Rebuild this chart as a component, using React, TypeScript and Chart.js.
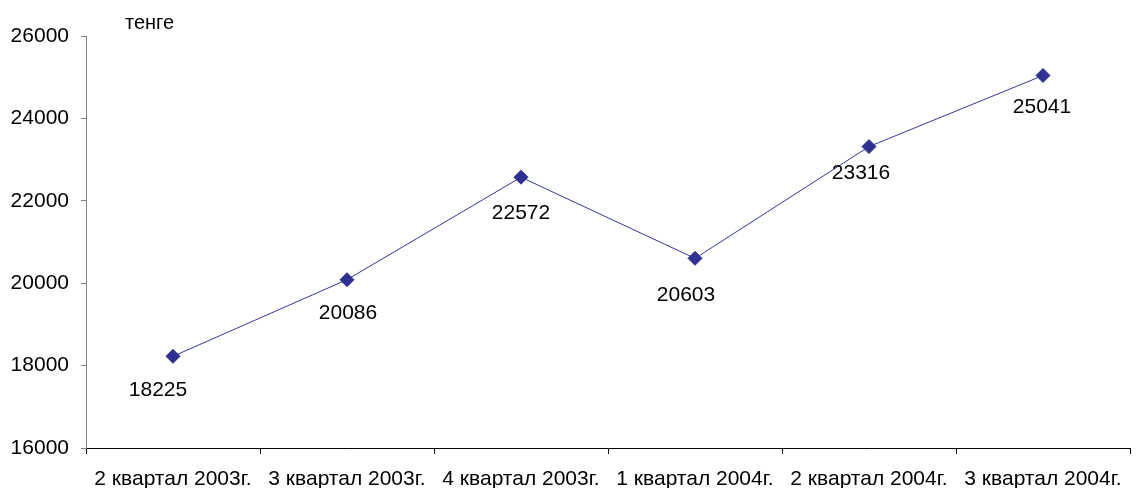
import React, { useEffect, useRef } from "react";
import { Chart, registerables } from "chart.js";

Chart.register(...registerables);

const categories = [
  "2 квартал 2003г.",
  "3 квартал 2003г.",
  "4 квартал 2003г.",
  "1 квартал 2004г.",
  "2 квартал 2004г.",
  "3 квартал 2004г.",
];
const values = [18225, 20086, 22572, 20603, 23316, 25041];
const unitLabel = "тенге";
const yMin = 16000;
const yMax = 26000;
const yStep = 2000;

// label placement nudges (dx, dy from point), styling only
const labelNudgeX = [-15, 1, 0, -9, -8, -1];
const labelNudgeY = [34, 34, 36, 37, 27, 32];

const FONT = "Liberation Sans, Arial, sans-serif";
const FS = 21;

const labelPlugin = {
  id: "pointLabels",
  afterDatasetsDraw(chart: any) {
    const ctx = chart.ctx;
    const meta = chart.getDatasetMeta(0);
    ctx.save();
    ctx.font = `${FS}px ${FONT}`;
    ctx.fillStyle = "#000";
    ctx.textAlign = "center";
    ctx.textBaseline = "middle";
    meta.data.forEach((pt: any, i: number) => {
      ctx.fillText(String(values[i]), pt.x + labelNudgeX[i], pt.y + labelNudgeY[i]);
    });
    ctx.font = `20px ${FONT}`;
    ctx.textAlign = "left";
    ctx.textBaseline = "alphabetic";
    ctx.fillText(unitLabel, chart.chartArea.left + 39, 29);
    ctx.restore();
  },
};

export default function App() {
  const ref = useRef<HTMLCanvasElement | null>(null);
  useEffect(() => {
    document.body.style.margin = "0";
    const chart = new Chart(ref.current as HTMLCanvasElement, {
      type: "line",
      data: {
        labels: categories,
        datasets: [
          {
            data: values,
            borderColor: "#3535a0",
            borderWidth: 1,
            pointStyle: "rectRot",
            pointRadius: 7,
            pointBorderWidth: 1,
            pointBackgroundColor: "#2e3192",
            pointBorderColor: "#2e3192",
            tension: 0,
          },
        ],
      },
      options: {
        animation: false,
        responsive: false,
        layout: { padding: { top: 36, right: 3, left: 0, bottom: 0 } },
        plugins: { legend: { display: false }, tooltip: { enabled: false } },
        scales: {
          x: {
            type: "category",
            offset: true,
            grid: {
              offset: true,
              drawOnChartArea: false,
              drawTicks: true,
              tickLength: 6,
              color: "#000",
            },
            border: { color: "#000", width: 1 },
            ticks: {
              color: "#000",
              font: { size: FS, family: FONT },
              padding: 13,
              maxRotation: 0,
              autoSkip: false,
            },
            afterFit(scale: any) {
              scale.height = 40;
            },
          },
          y: {
            min: yMin,
            max: yMax,
            grid: {
              drawOnChartArea: false,
              drawTicks: true,
              tickLength: 5,
              color: "#808080",
            },
            border: { color: "#808080", width: 1 },
            ticks: {
              stepSize: yStep,
              color: "#000",
              font: { size: FS, family: FONT },
              padding: 12,
              callback: (v: any) => String(v),
            },
            afterFit(scale: any) {
              scale.width = 86;
            },
          },
        },
      },
      plugins: [labelPlugin],
    });
    return () => chart.destroy();
  }, []);
  return (
    <div style={{ width: 1138, height: 488 }}>
      <canvas ref={ref} width={1138} height={488} style={{ display: "block" }} />
    </div>
  );
}
